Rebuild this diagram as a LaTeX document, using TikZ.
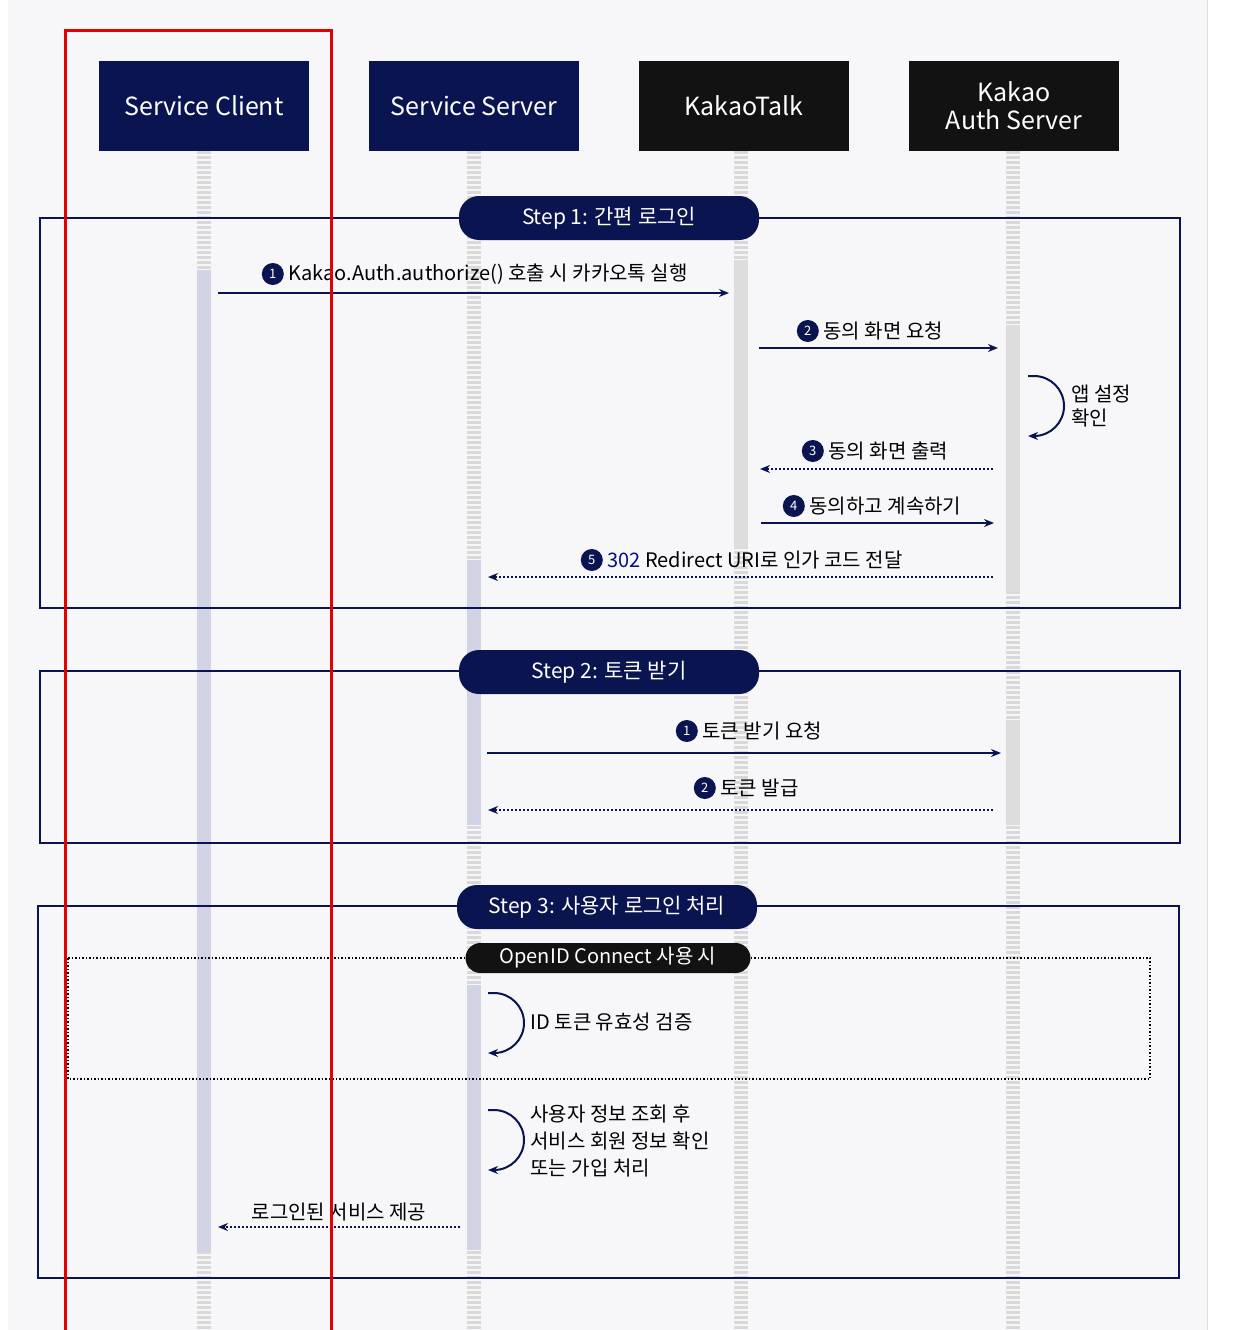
\documentclass[tikz,border=0pt]{standalone}
\usepackage{fontspec}
\setmainfont{Noto Sans CJK KR}
\usetikzlibrary{arrows.meta}
\definecolor{navy}{HTML}{0A1450}
\definecolor{ink}{HTML}{121212}
\definecolor{bar}{HTML}{D2D4E6}
\definecolor{greybar}{HTML}{DDDDDD}
\definecolor{bg}{HTML}{F7F7F9}
\tikzset{
    actor/.style={minimum width=210pt, minimum height=90pt, text=white, align=center, font=\fontsize{25}{28}\selectfont},
    pill/.style={rounded corners=20pt, fill=navy, text=white, minimum width=300pt, minimum height=44pt, font=\fontsize{21}{24}\selectfont},
    frame/.style={draw=navy, line width=1.2pt},
    msg/.style={draw=navy, line width=2pt, -{Stealth[length=10pt,width=8pt]}},
    reply/.style={msg, dotted},
    lbl/.style={font=\fontsize{20}{24}\selectfont, align=left},
    badge/.style={circle, fill=navy, text=white, inner sep=0pt, minimum size=22pt, font=\fontsize{13}{13}\selectfont, anchor=east},
    life/.style={draw=gray!30, line width=14pt, dash pattern=on 3pt off 2pt},
}
\begin{document}
\begin{tikzpicture}[x=1pt, y=-1pt]
    \useasboundingbox (0,0) rectangle (1236,1330);
    \fill[bg] (8,0) rectangle (1207,1330);
    \draw[gray!25] (1207,0) -- (1207,1330);

    % lifelines
    \foreach \x in {204,474,741,1013}
        \draw[life] (\x,151) -- (\x,1330);
    \fill[bar] (197,270) rectangle (211,1252);
    \fill[bar] (467,560) rectangle (481,825);
    \fill[bar] (467,985) rectangle (481,1250);
    \fill[greybar] (734,260) rectangle (748,548);
    \fill[greybar] (1006,325) rectangle (1020,592);
    \fill[greybar] (1006,720) rectangle (1020,825);

    % actors
    \node[actor, fill=navy] (client) at (204,106) {Service Client};
    \node[actor, fill=navy] (server) at (474,106) {Service Server};
    \node[actor, fill=ink] (talk) at (744,106) {KakaoTalk};
    \node[actor, fill=ink] (auth) at (1014,106) {Kakao\\Auth Server};

    % steps
    \draw[frame] (40,218) rectangle (1180,608);
    \draw[frame] (40,671) rectangle (1180,843);
    \draw[frame] (38,906) rectangle (1179,1278);
    \draw[line width=1.5pt, dotted] (68,958) rectangle (1150,1079);
    \node[pill] (step1) at (609,218) {Step 1: 간편 로그인};
    \node[pill] (step2) at (609,672) {Step 2: 토큰 받기};
    \node[pill] (step3) at (607,907) {Step 3: 사용자 로그인 처리};
    \node[pill, fill=ink, minimum width=285pt, minimum height=30pt, rounded corners=15pt, font=\fontsize{20}{22}\selectfont] (oidc) at (608,958) {OpenID Connect 사용 시};

    % step 1
    \coordinate (c1) at (218,293); \coordinate (t1) at (729,293);
    \draw[msg] (c1) -- (t1);
    \node[lbl, anchor=west] (m1) at (285,274) {Kakao.Auth.authorize() 호출 시 카카오톡 실행};
    \coordinate (t2) at (759,348); \coordinate (a2) at (998,348);
    \draw[msg] (t2) -- (a2);
    \node[lbl, anchor=west] (m2) at (820,331) {동의 화면 요청};
    \coordinate (a3) at (1028,376); \coordinate (a4) at (1028,436);
    \draw[msg] (a3) -- (1034,376) arc[start angle=90, end angle=-90, radius=30pt] -- (a4);
    \node[lbl, anchor=west] (chk) at (1068,406) {앱 설정\\확인};
    \coordinate (a5) at (993,469); \coordinate (t5) at (760,469);
    \draw[reply] (a5) -- (t5);
    \node[lbl, anchor=west] (m3) at (825,451) {동의 화면 출력};
    \coordinate (t6) at (761,523); \coordinate (a6) at (994,523);
    \draw[msg] (t6) -- (a6);
    \node[lbl, anchor=west] (m4) at (806,506) {동의하고 계속하기};
    \coordinate (a7) at (993,577); \coordinate (s7) at (488,577);
    \draw[reply] (a7) -- (s7);
    \node[lbl, anchor=west] (m5) at (604,560) {\textcolor{navy!70!blue}{302} Redirect URI로 인가 코드 전달};

    % step 2
    \coordinate (s8) at (487,753); \coordinate (a8) at (1001,753);
    \draw[msg] (s8) -- (a8);
    \node[lbl, anchor=west] (m6) at (699,731) {토큰 받기 요청};
    \coordinate (a9) at (993,810); \coordinate (s9) at (488,810);
    \draw[reply] (a9) -- (s9);
    \node[lbl, anchor=west] (m7) at (717,788) {토큰 발급};

    % badges
    \foreach \lab/\n in {m1/1, m2/2, m3/3, m4/4, m5/5, m6/1, m7/2}
        \node[badge] (b\lab) at ([xshift=-1pt]\lab.west) {\n};

    % step 3
    \coordinate (s10) at (488,993); \coordinate (s11) at (488,1053);
    \draw[msg] (s10) -- (494,993) arc[start angle=90, end angle=-90, radius=30pt] -- (s11);
    \node[lbl, anchor=west] (idchk) at (527,1022) {ID 토큰 유효성 검증};
    \coordinate (s12) at (488,1110); \coordinate (s13) at (488,1170);
    \draw[msg] (s12) -- (494,1110) arc[start angle=90, end angle=-90, radius=30pt] -- (s13);
    \node[lbl, anchor=west, font=\fontsize{20}{27}\selectfont] (join) at (527,1141) {사용자 정보 조회 후\\서비스 회원 정보 확인\\또는 가입 처리};
    \coordinate (s14) at (460,1227); \coordinate (c14) at (218,1227);
    \draw[reply] (s14) -- node[lbl, above=2pt] (m8) {로그인된 서비스 제공} (c14);

    % highlight
    \draw[red!90!black, line width=3pt] (65,31) rectangle (331,1340);
\end{tikzpicture}
\end{document}
